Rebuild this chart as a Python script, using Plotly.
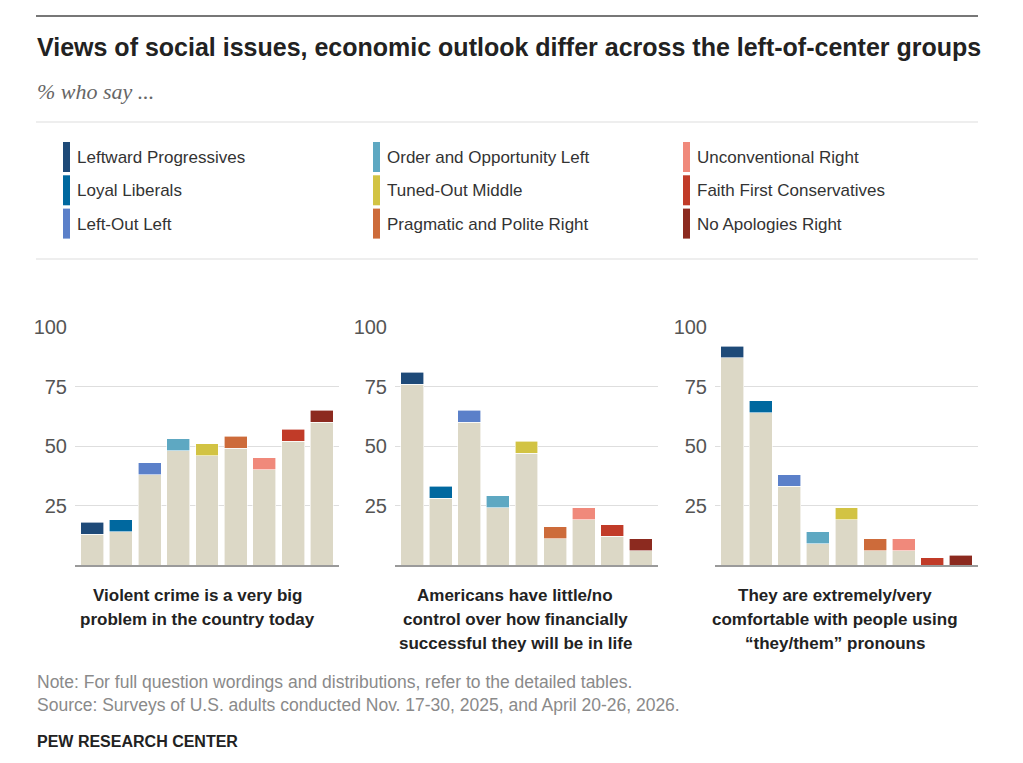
import plotly.graph_objects as go

# ---------------- data ----------------
groups = [
    "Leftward Progressives", "Loyal Liberals", "Left-Out Left",
    "Order and Opportunity Left", "Tuned-Out Middle", "Pragmatic and Polite Right",
    "Unconventional Right", "Faith First Conservatives", "No Apologies Right",
]
group_colors = [
    "#1e4a78", "#00689f", "#5b80c9",
    "#5ea8c2", "#d2c343", "#cd6b3a",
    "#f0897b", "#c13b28", "#8c2a1f",
]
violent_crime = [18, 19, 43, 53, 51, 54, 45, 57, 65]
little_control = [81, 33, 65, 29, 52, 16, 24, 17, 11]
they_them = [92, 69, 38, 14, 24, 11, 11, 3, 4]
panel_labels = [
    ["Violent crime is a very big", "problem in the country today"],
    ["Americans have little/no", "control over how financially", "successful they will be in life"],
    ["They are extremely/very", "comfortable with people using", "\u201cthey/them\u201d pronouns"],
]
y_ticks = [25, 50, 75, 100]

series = [violent_crime, little_control, they_them]

# ---------------- style ----------------
W, H = 1023, 763
BEIGE = "#dcd8c6"
CAP = 5  # height (in %) of the coloured cap on each bar
SANS = "Liberation Sans, Arial, sans-serif"


def px(x):
    return x / W


def py(y):
    return 1 - y / H


fig = go.Figure()

panel_px = [(75, 339), (395, 658), (715, 978)]
label_centers = [197, 515, 835]

for k, vals in enumerate(series):
    xa = "x" if k == 0 else f"x{k+1}"
    ya = "y" if k == 0 else f"y{k+1}"
    base = [max(v - CAP, 0) for v in vals]
    cap = [v - b for v, b in zip(vals, base)]
    fig.add_trace(go.Bar(
        x=groups, y=base, xaxis=xa, yaxis=ya,
        marker=dict(color=BEIGE, line=dict(width=0.6, color="white")),
        showlegend=False, hoverinfo="skip",
    ))
    fig.add_trace(go.Bar(
        x=groups, y=cap, xaxis=xa, yaxis=ya,
        marker=dict(color=group_colors, line=dict(width=0.6, color="white")),
        customdata=vals, hovertemplate="%{x}: %{customdata}%<extra></extra>",
        showlegend=False,
    ))

layout_axes = {}
for k, (x0, x1) in enumerate(panel_px):
    xs = "xaxis" if k == 0 else f"xaxis{k+1}"
    ys = "yaxis" if k == 0 else f"yaxis{k+1}"
    yref = "y" if k == 0 else f"y{k+1}"
    xref = "x" if k == 0 else f"x{k+1}"
    layout_axes[xs] = dict(
        domain=[px(x0), px(x1)], anchor=yref, range=[-0.6, 8.6],
        showticklabels=False, showgrid=False, zeroline=False,
        showline=True, linecolor="#9a9a9a", linewidth=2, ticks="",
        fixedrange=True, automargin=False,
    )
    layout_axes[ys] = dict(
        domain=[py(565), py(327)], anchor=xref, range=[0, 100],
        tickvals=y_ticks, ticktext=[str(t) for t in y_ticks],
        showgrid=True, gridcolor="#dedede", gridwidth=1, zeroline=False,
        showline=False, ticks="", ticklabelstandoff=7,
        tickfont=dict(family=SANS, size=20, color="#555555"),
        fixedrange=True, automargin=False,
    )

shapes = []
annotations = []

# rules
shapes.append(dict(type="line", xref="paper", yref="paper", x0=px(36), x1=px(978),
                   y0=py(16), y1=py(16), line=dict(color="#777777", width=2)))
for yy in (122, 259):
    shapes.append(dict(type="line", xref="paper", yref="paper", x0=px(36), x1=px(978),
                       y0=py(yy), y1=py(yy), line=dict(color="#dddddd", width=1)))

# title & subtitle
annotations.append(dict(
    x=px(35), y=py(47), xref="paper", yref="paper", xanchor="left", yanchor="middle",
    text="<b>Views of social issues, economic outlook differ across the left-of-center groups</b>",
    showarrow=False, font=dict(family=SANS, size=25, color="#222222"),
))
annotations.append(dict(
    x=px(35), y=py(92), xref="paper", yref="paper", xanchor="left", yanchor="middle",
    text="% who say ...", showarrow=False,
    font=dict(family="Liberation Serif, Georgia, serif", size=22, color="#666666", style="italic"),
))

# legend (manual, 3 columns x 3 rows)
col_x = [63, 373, 683]
for i, (g, c) in enumerate(zip(groups, group_colors)):
    col, row = i // 3, i % 3
    top = 142 + 33.3 * row
    shapes.append(dict(type="rect", xref="paper", yref="paper",
                       x0=px(col_x[col]), x1=px(col_x[col] + 7),
                       y0=py(top + 30), y1=py(top), fillcolor=c, line=dict(width=0)))
    annotations.append(dict(
        x=px(col_x[col] + 12), y=py(top + 15.5), xref="paper", yref="paper",
        xanchor="left", yanchor="middle", text=g, showarrow=False,
        font=dict(family=SANS, size=17, color="#333333"),
    ))

# panel labels
for k, lines in enumerate(panel_labels):
    for j, line in enumerate(lines):
        annotations.append(dict(
            x=px(label_centers[k]), y=py(595 + 24 * j), xref="paper", yref="paper",
            xanchor="center", yanchor="middle", text=f"<b>{line}</b>", showarrow=False,
            font=dict(family=SANS, size=17, color="#222222"),
        ))

# notes
annotations.append(dict(
    x=px(35), y=py(682), xref="paper", yref="paper", xanchor="left", yanchor="middle",
    text="Note: For full question wordings and distributions, refer to the detailed tables.",
    showarrow=False, font=dict(family=SANS, size=17.5, color="#8a8a8a"),
))
annotations.append(dict(
    x=px(35), y=py(705), xref="paper", yref="paper", xanchor="left", yanchor="middle",
    text="Source: Surveys of U.S. adults conducted Nov. 17-30, 2025, and April 20-26, 2026.",
    showarrow=False, font=dict(family=SANS, size=17.5, color="#8a8a8a"),
))
annotations.append(dict(
    x=px(35), y=py(741), xref="paper", yref="paper", xanchor="left", yanchor="middle",
    text="<b>PEW RESEARCH CENTER</b>",
    showarrow=False, font=dict(family=SANS, size=16, color="#222222"),
))

fig.update_layout(
    width=W, height=H, margin=dict(l=0, r=0, t=0, b=0, pad=0, autoexpand=False),
    paper_bgcolor="white", plot_bgcolor="white",
    barmode="stack", bargap=0.2,
    shapes=shapes, annotations=annotations,
    **layout_axes,
)

fig.write_html(
    "out.html",
    config={"displayModeBar": False},
    post_script="document.body.style.margin='0';document.body.style.overflow='hidden';",
)
